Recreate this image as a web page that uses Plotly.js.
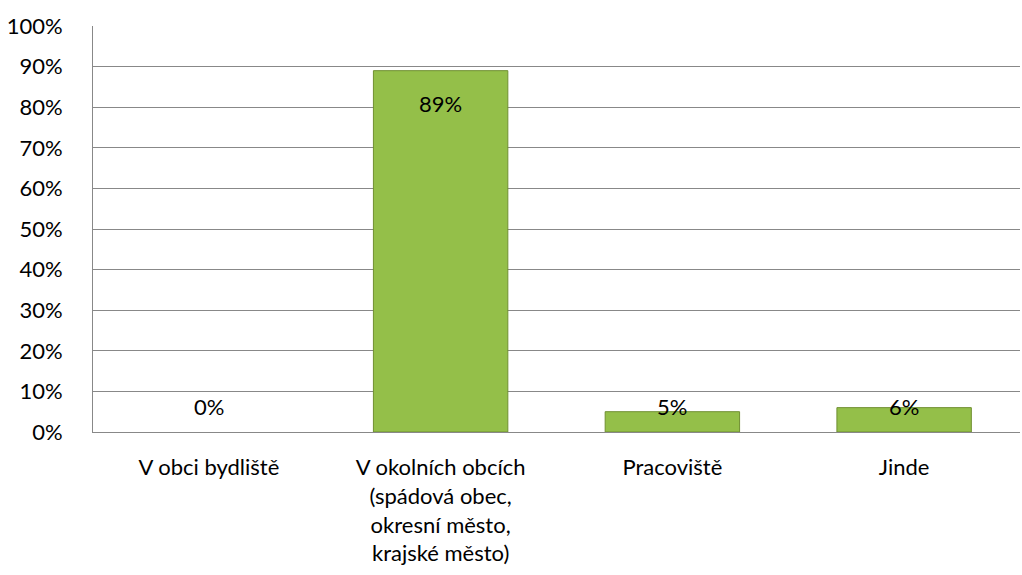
<!DOCTYPE html>
<html>
<head>
<meta charset="utf-8">
<script src="https://cdn.plot.ly/plotly-3.0.1.min.js"></script>
<style>html,body{margin:0;padding:0;background:#fff;}#chart{width:1022px;height:575px;}</style>
</head>
<body>
<div id="chart"></div>
<script>
const categories = [
  "V obci bydliště",
  "V okolních obcích<br>(spádová obec,<br>okresní město,<br>krajské město)",
  "Pracoviště",
  "Jinde"
];
const values = [0, 0.89, 0.05, 0.06];
const labels = ["0%", "89%", "5%", "6%"];
const tickVals = [0, 0.1, 0.2, 0.3, 0.4, 0.5, 0.6, 0.7, 0.8, 0.9, 1.0];
const tickText = ["0%", "10%", "20%", "30%", "40%", "50%", "60%", "70%", "80%", "90%", "100%"];

const FONT = "Lato, 'Open Sans', sans-serif";
const FS = 22;

const trace = {
  type: "bar",
  x: categories,
  y: values,
  width: 0.58,
  marker: {
    color: "#94bf49",
    line: {color: "#6f8f30", width: values.map(v => v > 0 ? 1 : 0)}
  },
  hoverinfo: "skip"
};

const annotations = values.map((v, i) => {
  const big = v >= 0.1;
  return {
    x: categories[i], y: big ? v : 0.062,
    xref: "x", yref: "y",
    text: labels[i], showarrow: false,
    yanchor: big ? "top" : "middle",
    yshift: big ? -17 : 0,
    font: {family: FONT, size: FS, color: "#000"}
  };
});

const layout = {
  width: 1022, height: 575,
  margin: {l: 93, r: 2, t: 26, b: 143},
  paper_bgcolor: "#fff", plot_bgcolor: "#fff",
  showlegend: false,
  font: {family: FONT, size: FS, color: "#000"},
  xaxis: {
    type: "category",
    showline: true, linecolor: "#888", linewidth: 1,
    ticks: "", ticklabelstandoff: 16,
    tickfont: {family: FONT, size: FS, color: "#000"},
    showgrid: false, zeroline: false, fixedrange: true
  },
  yaxis: {
    range: [0, 1.0],
    tickvals: tickVals, ticktext: tickText,
    showline: true, linecolor: "#888", linewidth: 1,
    showgrid: true, gridcolor: "#888", gridwidth: 1,
    ticks: "", ticklabelstandoff: 25,
    tickfont: {family: FONT, size: FS, color: "#000"},
    zeroline: false, fixedrange: true
  },
  annotations: annotations
};

Plotly.newPlot("chart", [trace], layout, {displayModeBar: false, staticPlot: true});
</script>
</body>
</html>
